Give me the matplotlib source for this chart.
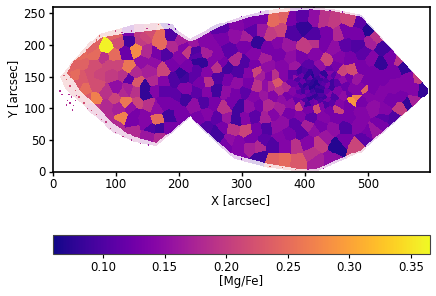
import matplotlib
matplotlib.use('Agg')
import matplotlib.pyplot as plt
import numpy as np
from matplotlib.path import Path

# bins: x, y [arcsec] and [Mg/Fe]
lobe_x = [85,134,122,99,67,81,115,145,169,172,189,189,205,165,180,149,143,120,104,88,67,49,35,57,75,94,112,123,134,154,175,160,176,192,210,51,70,67,86,102,112,99,115,131,147,147,162,176,136,152,86,86,110,125,131,144,102,128,149,166,155,169,152,170,186,165,176,192,186,202,197,210,213,228,223,239]
lobe_y = [197,192,207,183,184,179,187,212,216,200,217,197,208,187,186,189,174,164,168,168,168,171,153,153,153,153,153,147,142,160,160,142,142,146,150,129,137,114,124,132,125,116,110,126,133,121,129,129,108,105,103,87,85,80,93,89,71,63,76,82,68,68,58,55,87,100,108,108,68,92,118,116,192,182,203,208]
lobe_val = [.36,.28,.09,.25,.25,.19,.12,.21,.25,.25,.10,.18,.17,.13,.10,.18,.15,.26,.21,.21,.22,.24,.25,.22,.21,.20,.19,.11,.23,.17,.21,.18,.14,.10,.09,.25,.22,.27,.19,.15,.18,.21,.26,.19,.08,.08,.14,.11,.21,.19,.18,.18,.27,.13,.13,.14,.18,.18,.14,.25,.10,.09,.16,.18,.09,.15,.13,.13,.13,.13,.11,.09,.20,.11,.16,.14]

extra_x = [105,140,122,100,65,60,45,30,25,38,50,155,188,135,210,200,190,160,130,120,125,105,65,55]
extra_y = [205,207,222,218,205,195,185,165,150,135,150,222,229,222,195,180,170,172,155,130,100,100,100,115]
extra_val = [.22,.20,.13,.24,.24,.24,.25,.24,.24,.23,.23,.22,.10,.20,.14,.14,.13,.15,.18,.17,.15,.17,.20,.23]

rim_x = [352,368,360,347,398,331,312,293,268,431,444,470,489,500,513,484,463,415,396,378,381,415,436,455,331,317,307,325,341,357,373,402,415,431,446,465,484,505,524,494,550,558,537,540,579,566,589,574,558,542,570,565,552,537,526,521,553,542,521,511,481,495,463,452,349,368,387,331,315,294,412,420,441,405,423,433,385,370,349,328,280,262]
rim_y = [237,245,224,218,229,240,234,232,226,240,237,240,234,225,211,218,221,242,245,242,218,213,218,218,224,224,211,204,195,203,200,197,204,203,195,200,200,205,195,187,176,167,179,158,147,145,130,131,137,134,110,108,100,113,97,121,118,84,76,63,39,53,50,41,18,18,16,24,39,21,29,16,18,45,45,55,39,39,42,39,50,55]
rim_val = [.25,.24,.21,.20,.08,.13,.13,.14,.11,.19,.20,.21,.11,.07,.19,.13,.13,.15,.11,.13,.10,.10,.13,.18,.16,.11,.17,.08,.13,.14,.16,.20,.19,.13,.15,.11,.10,.17,.09,.11,.19,.08,.13,.13,.20,.14,.08,.14,.14,.14,.17,.08,.20,.13,.14,.14,.13,.10,.13,.16,.21,.11,.13,.07,.24,.25,.23,.09,.17,.14,.19,.17,.15,.14,.20,.16,.19,.14,.10,.18,.15,.09]

mid_x = [250,270,290,305,225,245,262,280,320,335,229,239,252,270,290,305,320,340,215,228,245,261,277,295,310,330,345,207,222,234,247,262,278,292,310,325,340,212,228,245,260,275,290,305,320,335,225,240,255,272,285,296,312,328,342,232,245,262,276,291,305,320,338,350,245,260,270,286,307,325,340,355,275,295,315,335,360,375,395,415]
mid_y = [200,212,215,200,190,187,183,190,185,178,176,172,174,172,176,172,170,165,165,160,158,165,165,158,155,152,150,153,150,140,142,148,145,140,140,135,135,130,125,125,128,125,122,125,118,120,105,110,108,100,110,103,102,105,105,85,90,85,85,83,85,88,85,90,68,62,70,66,63,65,68,70,45,45,52,50,55,60,62,65]
mid_val = [.14,.13,.15,.13,.10,.17,.14,.11,.14,.17,.08,.08,.14,.13,.18,.10,.13,.15,.13,.11,.14,.19,.09,.10,.14,.17,.14,.08,.11,.13,.19,.10,.13,.15,.13,.19,.15,.14,.11,.14,.09,.15,.13,.11,.14,.16,.15,.10,.13,.19,.13,.09,.15,.13,.18,.13,.14,.11,.16,.09,.14,.11,.17,.14,.10,.09,.13,.19,.21,.13,.10,.15,.13,.14,.13,.11,.14,.13,.11,.15]

ring_x = [360,378,395,415,436,455,470,505,521,365,385,405,425,450,474,490,510,525,350,356,360,350,345,370,385,400,420,440,458,470,483,492,496,500,482,474,462,455,452,440,420,405,392,378,365,360,375,392,410,430,450,470,490,510,365,385,405,425,445,465,485,500,525,325,468,490,470,482,505,495]
ring_y = [185,180,180,185,174,180,178,178,171,165,165,168,165,165,160,165,155,150,150,140,128,120,135,150,155,158,160,158,158,148,145,135,131,120,118,113,120,105,100,98,103,100,105,108,115,100,92,88,85,85,85,85,92,100,78,75,72,72,68,70,72,60,85,158,105,112,122,126,130,140]
ring_val = [.13,.15,.13,.14,.21,.14,.13,.14,.08,.14,.16,.11,.15,.13,.22,.13,.13,.13,.19,.23,.19,.14,.18,.14,.11,.10,.10,.14,.21,.13,.16,.14,.24,.14,.27,.29,.15,.14,.21,.13,.22,.13,.21,.15,.15,.17,.13,.14,.11,.14,.13,.13,.14,.15,.15,.11,.17,.13,.15,.10,.14,.13,.11,.21,.13,.13,.12,.14,.13,.13]

core_x = [415,409,421,412,420,403,427,416,407,425,397,433,398,406,416,426,435,442,390,388,395,405,418,430,440,450,452,445,435,424,412,400,390,380,378,372,465,460,475]
core_y = [135,138,138,128,130,132,133,145,146,145,140,142,127,122,120,122,126,134,133,145,152,155,153,153,148,140,128,118,113,112,110,113,120,128,140,133,135,145,130]
core_val = [.07,.08,.07,.09,.08,.10,.09,.08,.11,.09,.12,.10,.09,.11,.08,.10,.12,.09,.13,.10,.12,.08,.10,.08,.13,.11,.14,.10,.13,.10,.12,.10,.13,.14,.12,.18,.12,.15,.14]

fine_x = [412,418,406,424,410,420,400,430,404,426,394,436,414,408,422,392,438,386,444,398,432,378,452,410,420,402,428,384,446,392,440,396,434,418,404,426,412,388,442,372]
fine_y = [141,141,142,141,133,134,136,138,127,127,136,137,125,116,116,126,122,138,141,118,117,150,150,149,149,150,150,150,152,158,160,107,107,108,106,105,150,112,108,118]
fine_val = [.08,.07,.09,.10,.07,.09,.08,.11,.12,.08,.09,.13,.10,.08,.09,.11,.14,.12,.09,.13,.09,.11,.14,.12,.09,.08,.12,.15,.11,.09,.12,.15,.10,.13,.09,.14,.07,.12,.11,.13]

# solid part of the footprint, then the thin fringe around it
edge_x = [22,35,55,76,95,112,144,168,186,218,229,260,278,315,341,376,410,447,489,595,595,489,420,389,339,288,262,218,165,128,96,70,43,33]
edge_y = [155,176,192,212,215,218,221,224,226,205,210,226,234,245,249,253,256,253,245,132,123,34,5,5,13,26,47,87,45,55,76,103,129,145]
fringe_x = [12,30,50,75,100,130,168,190,200,218,260,300,340,376,410,447,489,595,595,489,420,389,339,288,262,218,165,128,96,70,43,20]
fringe_y = [150,172,195,218,224,232,234,233,222,210,232,245,255,258,259,256,248,132,123,30,1,1,7,20,43,85,40,47,62,85,110,130]

# loose pixels outside the solid part
speck_x = [12,15,24,28,33,30,36,38,26,22,32,18,22,25,30,40,48,55,62,70,75,28,36,42,50,56,62,70,78,85,92,100,112,125,140,152,100,110,125,150,168,185,195,300,330,360,395,415,440,460,300,345,365,385,405,430]
speck_y = [127,122,112,108,104,118,112,120,122,105,97,152,145,160,168,172,184,192,198,208,214,135,128,118,108,100,96,90,82,78,68,62,55,50,44,42,222,220,222,226,232,232,225,245,252,258,258,259,254,252,20,8,6,3,3,5]
speck_val = [.18,.18,.18,.18,.18,.18,.18,.18,.18,.18,.18,.23,.24,.23,.23,.24,.24,.24,.23,.24,.24,.22,.23,.22,.22,.21,.22,.22,.21,.20,.20,.19,.19,.18,.18,.16,.21,.19,.19,.19,.24,.13,.12,.13,.14,.23,.13,.12,.13,.15,.13,.24,.24,.23,.16,.14]

seed_x = np.array(lobe_x + extra_x + rim_x + mid_x + ring_x + core_x + fine_x, dtype=float)
seed_y = np.array(lobe_y + extra_y + rim_y + mid_y + ring_y + core_y + fine_y, dtype=float)
seed_val = np.array(lobe_val + extra_val + rim_val + mid_val + ring_val + core_val + fine_val)

vmin, vmax = 0.059, 0.365

xs = np.arange(0, 600, 1.5)
ys = np.arange(0, 261, 1.5)
gx, gy = np.meshgrid(xs + 0.75, ys + 0.75)
best = np.full(gx.shape, 1e12)
grid = np.zeros(gx.shape)
for sx, sy, sv in zip(seed_x, seed_y, seed_val):
    d = (gx - sx)**2 + (gy - sy)**2
    near = d < best
    best[near] = d[near]
    grid[near] = sv

pts = np.column_stack([gx.ravel(), gy.ravel()])
inside = Path(np.column_stack([edge_x, edge_y])).contains_points(pts).reshape(gx.shape)
around = Path(np.column_stack([fringe_x, fringe_y])).contains_points(pts).reshape(gx.shape)

fig = plt.figure(figsize=(4.36, 2.96), dpi=100)
ax = fig.add_axes([52.5/436, 1-171.5/296, 377/436, 164.5/296])
gxe, gye = np.append(xs, 600), np.append(ys, 261)
ax.pcolormesh(gxe, gye, np.ma.masked_where(~around, grid), cmap='plasma', vmin=vmin, vmax=vmax, alpha=0.2, lw=0)
mesh = ax.pcolormesh(gxe, gye, np.ma.masked_where(~inside, grid), cmap='plasma', vmin=vmin, vmax=vmax)
ax.scatter(speck_x, speck_y, c=speck_val, cmap='plasma', vmin=vmin, vmax=vmax, s=1, marker='s', lw=0)
ax.set_xlim(0, 598)
ax.set_ylim(0, 260)
ax.set_xticks([0, 100, 200, 300, 400, 500])
ax.set_yticks([0, 50, 100, 150, 200, 250])
ax.set_xlabel('X [arcsec]', fontsize=8.5, labelpad=2)
ax.set_ylabel('Y [arcsec]', fontsize=8.5, labelpad=2)
ax.tick_params(labelsize=8.5, width=1, length=3, pad=2)
for s in ax.spines.values():
    s.set_linewidth(1.2)

cax = fig.add_axes([52.5/436, 1-254/296, 377/436, 19/296])
cb = fig.colorbar(mesh, cax=cax, orientation='horizontal')
cb.set_ticks([0.10, 0.15, 0.20, 0.25, 0.30, 0.35])
cb.ax.set_xticklabels(['0.10', '0.15', '0.20', '0.25', '0.30', '0.35'])
cb.ax.tick_params(labelsize=8.5, width=0.8, length=3, pad=2)
cb.set_label('[Mg/Fe]', fontsize=8.5, labelpad=1)
cb.outline.set_linewidth(0.8)
cb.outline.set_edgecolor('#444444')

fig.savefig('out.png', dpi=100)
